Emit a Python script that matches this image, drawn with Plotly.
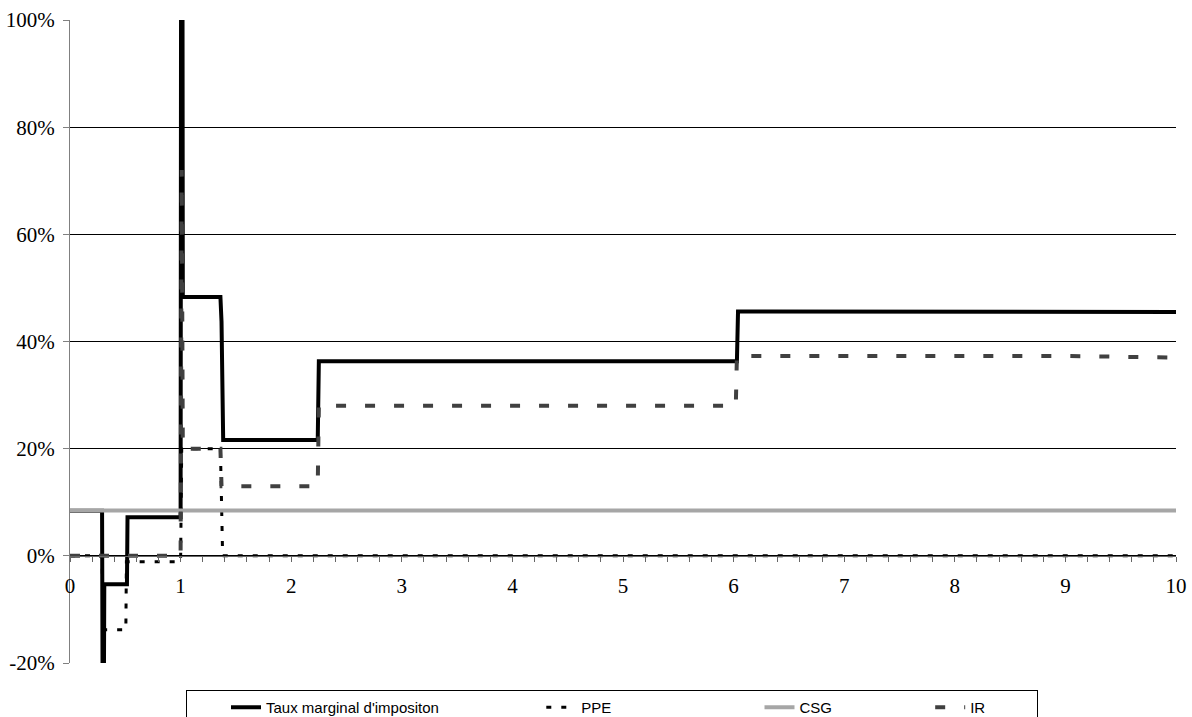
import plotly.graph_objects as go

# Data (values in %)
x_taux = [0, 0.29, 0.30, 0.31, 0.515, 0.52, 1.0, 1.01, 1.02, 1.36, 1.37, 1.375, 1.385, 2.24, 2.25, 6.03, 6.04, 10]
taux = [8.4, 8.4, -60, -5.3, -5.3, 7.2, 7.2, 250, 48.3, 48.3, 43.7, 36.6, 21.6, 21.6, 36.3, 36.3, 45.6, 45.5]

x_ppe = [0, 0.29, 0.30, 0.505, 0.51, 1.0, 1.01, 1.36, 1.38, 10]
ppe = [0, 0, -13.8, -13.8, -1.1, -1.1, 20, 20, 0, 0]

x_csg = [0, 10]
csg = [8.45, 8.45]

x_ir = [0, 1.0, 1.01, 1.02, 1.36, 1.37, 2.24, 2.25, 6.02, 6.03, 9.0, 10]
ir = [0, 0, 72, 20, 20, 13, 13, 28, 28, 37.3, 37.3, 37.0]

y_ticks = [-20, 0, 20, 40, 60, 80, 100]
y_labels = ["-20%", "0%", "20%", "40%", "60%", "80%", "100%"]
x_ticks = list(range(0, 11))

NB = "\u00a0"
names = ["Taux marginal d'impositon" + NB * 14, "PPE" + NB * 25, "CSG" + NB * 13, "IR" + NB * 11]

fig = go.Figure()
fig.add_trace(go.Scatter(x=x_taux, y=taux, mode="lines", name=names[0],
                         line=dict(color="#000000", width=4)))
fig.add_trace(go.Scatter(x=x_ppe, y=ppe, mode="lines", name=names[1],
                         line=dict(color="#000000", width=3, dash="5px,10px")))
fig.add_trace(go.Scatter(x=x_csg, y=csg, mode="lines", name=names[2],
                         line=dict(color="#A6A6A6", width=4)))
fig.add_trace(go.Scatter(x=x_ir, y=ir, mode="lines", name=names[3],
                         line=dict(color="#404040", width=4, dash="10px,19px")))

fig.update_layout(
    width=1192, height=717,
    margin=dict(l=70, r=16, t=20, b=54, autoexpand=False),
    paper_bgcolor="white", plot_bgcolor="white",
    showlegend=True,
    legend=dict(orientation="h", x=(186 - 70) / 1106, xanchor="left", y=-0.042, yanchor="top",
                bordercolor="#000000", borderwidth=1, bgcolor="white",
                font=dict(family="Liberation Sans, Arial", size=15, color="#000"),
                itemwidth=30, indentation=39),
    font=dict(family="Liberation Serif, Times New Roman", size=21, color="#000"),
)

fig.update_xaxes(
    range=[0, 10], anchor="free", position=20/120,
    tickvals=x_ticks, ticktext=[str(v) for v in x_ticks],
    showgrid=False, zeroline=False,
    showline=True, linecolor="#666666", linewidth=1,
    ticks="outside", ticklen=5, tickcolor="#666666", tickwidth=1,
    ticklabelstandoff=6,
    minor=dict(dtick=0.2, tick0=0, ticks="outside", ticklen=5, tickcolor="#666666", showgrid=False),
    tickfont=dict(family="Liberation Serif, Times New Roman", size=21, color="#000"),
)
fig.update_yaxes(
    range=[-20, 100], tickvals=y_ticks, ticktext=y_labels,
    showgrid=True, gridcolor="#000000", gridwidth=1,
    zeroline=False,
    showline=True, linecolor="#808080", linewidth=1,
    ticks="outside", ticklen=6, tickcolor="#808080",
    ticklabelstandoff=4,
    tickfont=dict(family="Liberation Serif, Times New Roman", size=21, color="#000"),
)

fig.write_html("out.html")
